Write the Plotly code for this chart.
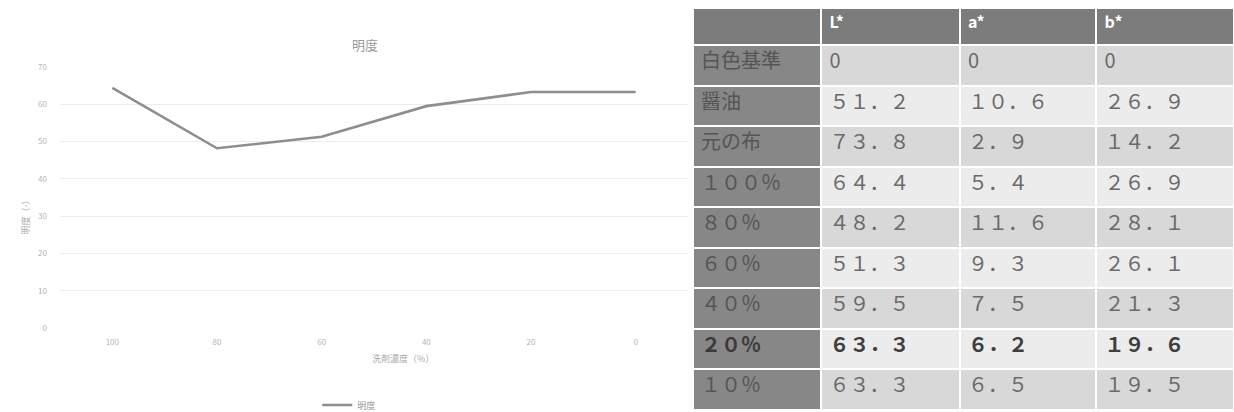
import plotly.graph_objects as go

# Samples measured (row labels of the table)
samples = ["白色基準", "醤油", "元の布", "１００％", "８０％", "６０％", "４０％", "２０％", "１０％"]
# CIE L*a*b* readings per sample
l_star = [0, 51.2, 73.8, 64.4, 48.2, 51.3, 59.5, 63.3, 63.3]
a_star = [0, 10.6, 2.9, 5.4, 11.6, 9.3, 7.5, 6.2, 6.5]
b_star = [0, 26.9, 14.2, 26.9, 28.1, 26.1, 21.3, 19.6, 19.5]

# Concentration categories for the lightness line (the 100%..10% samples)
conc_labels = ["100", "80", "60", "40", "20", "0"]
line_values = l_star[3:]

header_labels = ["", "L*", "a*", "b*"]
highlight_row = 7  # the 20% row is shown in bold

FONT = "Noto Sans CJK JP"
W, H = 1234, 412
TABLE_LEFT = 693
TABLE_TOP = 8
HEADER_H = 37
ROW_H = 40.5
COL_W = [128, 138, 136, 137]

_fw = str.maketrans("0123456789.", "０１２３４５６７８９．")


def fmt(v):
    if v == 0:
        return "0"
    return f"{v:.1f}".translate(_fw)


n = len(samples)
dark = "#878787"
light_a = "#d8d8d8"
light_b = "#ececec"
body_fill = [light_a if i % 2 == 0 else light_b for i in range(n)]
columns = [samples, [fmt(v) for v in l_star], [fmt(v) for v in a_star], [fmt(v) for v in b_star]]


def ydom(top_px, bottom_px):
    return [1 - bottom_px / H, 1 - top_px / H]


fig = go.Figure()

# Lightness line chart
fig.add_trace(go.Scatter(
    x=conc_labels,
    y=line_values,
    mode="lines",
    name="明度",
    line=dict(color="#8e8e8e", width=2.6),
    xaxis="x",
    yaxis="y",
))

# Colour table, part 1: column header and the plain rows above the bold one
rows = range(0, highlight_row)
fig.add_trace(go.Table(
    domain=dict(x=[TABLE_LEFT / W, 1.0],
                y=ydom(TABLE_TOP, TABLE_TOP + HEADER_H + highlight_row * ROW_H)),
    columnwidth=COL_W,
    header=dict(
        values=header_labels,
        fill_color=["#7c7c7c"] * 4,
        font=dict(family=FONT, size=16, color="white", weight="bold"),
        align="left",
        height=HEADER_H,
        line=dict(color="white", width=2),
    ),
    cells=dict(
        values=[[c[i] for i in rows] for c in columns],
        fill_color=[[dark] * len(rows)] + [[body_fill[i] for i in rows]] * 3,
        font=dict(family=FONT, size=20,
                  color=["#555555", "#6a6a6a", "#6a6a6a", "#6a6a6a"]),
        align="left",
        height=ROW_H,
        line=dict(color="white", width=2),
    ),
))


def add_single_row(i, bold):
    """One table row drawn as its own single-row block."""
    top_px = TABLE_TOP + HEADER_H + i * ROW_H
    fig.add_trace(go.Table(
        domain=dict(x=[TABLE_LEFT / W, 1.0], y=ydom(top_px, top_px + ROW_H)),
        columnwidth=COL_W,
        header=dict(
            values=[c[i] for c in columns],
            fill_color=[dark, body_fill[i], body_fill[i], body_fill[i]],
            font=dict(family=FONT, size=20,
                      color=["#3a3a3a" if bold else "#555555"]
                      + ["#3f3f3f" if bold else "#6a6a6a"] * 3,
                      weight="bold" if bold else "normal"),
            align="left",
            height=ROW_H,
            line=dict(color="white", width=2),
        ),
        cells=dict(values=[]),
    ))


# Colour table, part 2: the bold 20% row and the final row
add_single_row(highlight_row, True)
for i in range(highlight_row + 1, n):
    add_single_row(i, False)

tick_font = dict(family=FONT, size=8, color="#b5b5b5")

fig.update_layout(
    width=W,
    height=H,
    margin=dict(l=0, r=0, t=0, b=0, autoexpand=False),
    paper_bgcolor="white",
    plot_bgcolor="white",
    font=dict(family=FONT),
    showlegend=True,
    legend=dict(
        orientation="h",
        x=0.283, xanchor="center",
        y=1 - 405 / H, yanchor="middle",
        font=dict(family=FONT, size=9, color="#9a9a9a"),
        itemwidth=30,
        bgcolor="rgba(0,0,0,0)",
    ),
    xaxis=dict(
        domain=[60 / W, 688 / W],
        type="category",
        range=[-0.5, len(conc_labels) - 0.5],
        showgrid=False,
        zeroline=False,
        showline=False,
        ticks="",
        tickfont=tick_font,
        ticklabelstandoff=8,
        anchor="y",
    ),
    yaxis=dict(
        domain=[1 - 328 / H, 1 - 67 / H],
        range=[0, 70],
        dtick=10,
        showgrid=True,
        gridcolor="#ececec",
        gridwidth=1,
        zeroline=False,
        showline=False,
        ticks="",
        tickfont=tick_font,
        ticklabelstandoff=12,
        anchor="x",
    ),
    annotations=[
        dict(text="明度", x=350 / W, y=1 - 33 / H, xref="paper", yref="paper",
             showarrow=False, font=dict(family=FONT, size=13, color="#9a9a9a")),
        dict(text="洗剤濃度（%）", x=370 / W, y=1 - 367 / H, xref="paper", yref="paper",
             showarrow=False, font=dict(family=FONT, size=9, color="#ababab")),
        dict(text="明度（-）", x=16 / W, y=1 - 215 / H, xref="paper", yref="paper",
             showarrow=False, textangle=-90,
             font=dict(family=FONT, size=9, color="#ababab")),
    ],
)

fig.write_html("out.html")
